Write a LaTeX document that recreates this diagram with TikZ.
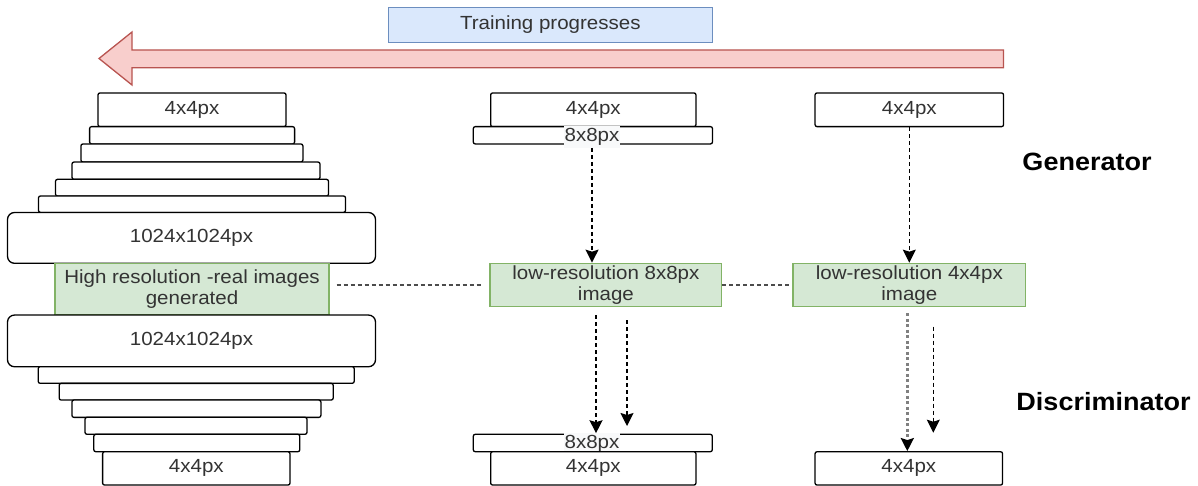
\documentclass[tikz,border=0pt]{standalone}
\usepackage{fontspec}
\setmainfont{Liberation Sans}[FakeStretch=1.08]
\usetikzlibrary{arrows.meta}

\definecolor{redfill}{HTML}{F8CECC}
\definecolor{redline}{HTML}{B85450}
\definecolor{greenfill}{HTML}{D5E8D4}
\definecolor{greenline}{HTML}{82B366}
\definecolor{bluefill}{HTML}{DAE8FC}
\definecolor{blueline}{HTML}{6C8EBF}
\definecolor{txtgray}{HTML}{333333}
\definecolor{tagfill}{HTML}{F8F9FA}

\tikzset{
  boxfont/.style={font=\fontsize{19}{21}\selectfont, text=txtgray},
  layer/.style={draw, line width=1.3pt, rounded corners=2pt, fill=white, inner sep=0pt, boxfont},
  bigbox/.style={layer, rounded corners=7pt},
  lowres/.style={draw=greenline, fill=greenfill, line width=1.3pt, inner sep=0pt, align=center, boxfont},
  tag/.style={fill=tagfill, inner xsep=1pt, inner ysep=2pt, boxfont},
  side/.style={font=\fontsize{25}{30}\selectfont\bfseries},
  dline/.style={line width=1.3pt, dash pattern=on 4pt off 3pt, -{Stealth[length=13pt,width=13pt,inset=2pt]}},
  gline/.style={line width=2.5pt, draw=black!50, dash pattern=on 3pt off 2.5pt, -{Stealth[length=13pt,width=13pt,inset=2pt,color=black,fill=black]}},
  hline/.style={line width=1.3pt, draw=black!70, dash pattern=on 4pt off 3pt}
}

\begin{document}
\begin{tikzpicture}[x=1pt, y=-1pt]
    \useasboundingbox (0,0) rectangle (1198,486);

    % progress arrow
    \draw[draw=redline, fill=redfill, line width=1.3pt, line join=miter]
      (99,58.5) -- (132,32) -- (132,50) -- (1003.5,50) -- (1003.5,67.7)
      -- (132,67.7) -- (132,85) -- cycle;
    \node[draw=blueline, fill=bluefill, line width=1.3pt, minimum width=324pt, minimum height=35pt, boxfont] (prog) at (550.3,24.8) {Training progresses};

    % generator stack, left
    \node[layer, minimum width=188pt, minimum height=33.7pt] (g1) at (192,109.8) {4x4px};
    \foreach \name/\cx/\cy/\w/\h in {g2/192.1/135.3/205/17.3, g3/191.9/153/222/18,
        g4/196/170.7/248/17.3, g5/192/187.7/273/16.7, g6/192/204.2/307/16.5}
      \node[layer, minimum width=\w pt, minimum height=\h pt] (\name) at (\cx,\cy) {};
    \node[bigbox, minimum width=368pt, minimum height=50.8pt] (gbig) at (191.5,237.9) {1024x1024px};
    \node[lowres, minimum width=274pt, minimum height=51.7pt] (hi) at (192,289.2) {High resolution -real images\\generated};

    % discriminator stack, left
    \node[bigbox, minimum width=368pt, minimum height=51.7pt] (dbig) at (191.5,340.9) {1024x1024px};
    \foreach \name/\cx/\cy/\w/\h in {d6/196.2/375/316/16.6, d5/196.2/391.7/274/16.7,
        d4/196.4/408.7/249/17.3, d3/196/425.8/222/17, d2/196.8/443/206/17.4}
      \node[layer, minimum width=\w pt, minimum height=\h pt] (\name) at (\cx,\cy) {};
    \node[layer, minimum width=187.4pt, minimum height=33.3pt] (d1) at (196.3,468.4) {4x4px};

    % middle column
    \node[layer, minimum width=205.3pt, minimum height=33.7pt] (mg4) at (593.3,109.8) {4x4px};
    \node[layer, minimum width=239.2pt, minimum height=17.3pt] (mg8) at (592.9,135.3) {};
    \node[tag] (mg8t) at (592,137) {8x8px};
    \node[lowres, minimum width=231.7pt, minimum height=43.4pt] (mlo) at (605.9,285) {low-resolution 8x8px\\image};
    \node[layer, minimum width=239pt, minimum height=17.4pt] (md8) at (592.8,443) {};
    \node[tag] (md8t) at (592,444) {8x8px};
    \node[layer, minimum width=205.3pt, minimum height=33.3pt] (md4) at (593.3,468.4) {4x4px};

    % right column
    \node[layer, minimum width=188.5pt, minimum height=33.7pt] (rg4) at (909.3,109.8) {4x4px};
    \node[lowres, minimum width=232.6pt, minimum height=43.4pt] (rlo) at (909.3,285) {low-resolution 4x4px\\image};
    \node[layer, minimum width=187.5pt, minimum height=33.3pt] (rd4) at (908.8,468.4) {4x4px};

    \node[side] (gen) at (1087,161.7) {Generator};
    \node[side] (dis) at (1103.5,401.7) {Discriminator};

    % connectors
    \draw[dline] (mg8t.south) -- (mg8t.south |- mlo.north);
    \draw[dline] (rg4.south) -- (rlo.north);
    \draw[hline, shorten <=7pt, shorten >=6pt] (mlo.west -| hi.east) -- (mlo.west);
    \draw[hline] (mlo.east) -- (rlo.west);
    \draw[dline, shorten <=8pt] ([xshift=4pt]md8t.north |- mlo.south) -- ([xshift=4pt]md8t.north);
    \coordinate (ma) at (627,320);
    \coordinate (mb) at (627,426);
    \draw[dline] (ma) -- (mb);
    \draw[gline, shorten <=6pt] ([xshift=-1.5pt]rd4.north |- rlo.south) -- ([xshift=-1.5pt]rd4.north);
    \coordinate (ra) at (933.3,326.7);
    \coordinate (rb) at (933.3,432.7);
    \draw[dline] (ra) -- (rb);
\end{tikzpicture}
\end{document}
